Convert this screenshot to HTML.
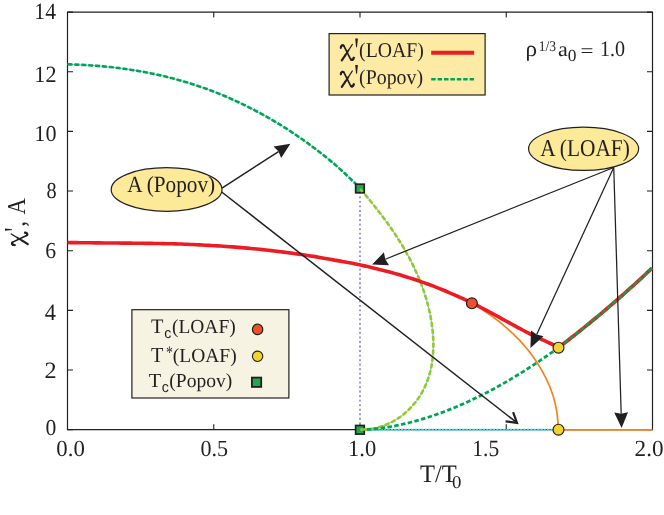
<!DOCTYPE html>
<html><head><meta charset="utf-8"><title>chart</title>
<style>html,body{margin:0;padding:0;background:#fff;}body{width:664px;height:515px;overflow:hidden;position:relative;font-family:"Liberation Serif",serif;}</style></head>
<body>
<svg width="664" height="515" viewBox="0 0 664 515" style="position:absolute;left:0;top:0;will-change:transform" text-rendering="geometricPrecision" font-family="'Liberation Serif', serif" fill="#231f20">
<rect x="0" y="0" width="664" height="515" fill="#ffffff"/>
<line x1="360" y1="187.5" x2="360" y2="429" stroke="#8383cb" stroke-width="1.7" stroke-dasharray="1.8 2.717"/>
<path d="M67.50,12.10 H652.50 V429.70 H67.50 Z" fill="none" stroke="#231f20" stroke-width="1.2"/>
<path d="M67.50,429.70 h5.5 M652.50,429.70 h-5.5 M67.50,370.04 h5.5 M652.50,370.04 h-5.5 M67.50,310.39 h5.5 M652.50,310.39 h-5.5 M67.50,250.73 h5.5 M652.50,250.73 h-5.5 M67.50,191.07 h5.5 M652.50,191.07 h-5.5 M67.50,131.41 h5.5 M652.50,131.41 h-5.5 M67.50,71.76 h5.5 M652.50,71.76 h-5.5 M67.50,12.10 h5.5 M652.50,12.10 h-5.5 M213.75,429.70 v-5.5 M213.75,12.10 v5.5 M360.00,429.70 v-5.5 M360.00,12.10 v5.5 M506.25,429.70 v-5.5 M506.25,12.10 v5.5" fill="none" stroke="#231f20" stroke-width="1.1"/>
<line x1="360" y1="429.70" x2="558" y2="429.70" stroke="#52d0d2" stroke-width="1.9" stroke-dasharray="2.7 0.7"/>
<path d="M471.98,303.12 L473.13,303.79 L474.27,304.48 L475.42,305.17 L476.56,305.87 L477.70,306.58 L478.84,307.29 L479.97,308.01 L481.10,308.74 L482.22,309.47 L483.35,310.21 L484.46,310.96 L485.58,311.71 L486.69,312.47 L487.80,313.24 L488.90,314.01 L490.00,314.79 L491.09,315.58 L492.18,316.37 L493.27,317.18 L494.35,317.98 L495.43,318.80 L496.50,319.62 L497.57,320.45 L498.63,321.28 L499.69,322.12 L500.74,322.97 L501.79,323.83 L502.83,324.69 L503.86,325.56 L504.90,326.44 L505.92,327.32 L506.94,328.21 L507.95,329.11 L508.96,330.01 L509.96,330.92 L510.96,331.84 L511.95,332.76 L512.93,333.69 L513.91,334.63 L514.88,335.57 L515.85,336.53 L516.80,337.48 L517.75,338.45 L518.70,339.42 L519.63,340.40 L520.54,341.39 L521.44,342.38 L522.34,343.38 L523.22,344.39 L524.10,345.40 L524.98,346.42 L525.84,347.45 L526.70,348.49 L527.55,349.53 L528.39,350.58 L529.22,351.63 L530.04,352.69 L530.86,353.76 L531.66,354.84 L532.46,355.92 L533.24,357.00 L534.02,358.10 L534.79,359.20 L535.54,360.31 L536.29,361.42 L537.03,362.54 L537.75,363.67 L538.47,364.80 L539.17,365.94 L539.87,367.08 L540.55,368.23 L541.22,369.39 L541.88,370.55 L542.53,371.72 L543.16,372.90 L543.79,374.08 L544.40,375.27 L545.03,376.46 L545.64,377.66 L546.24,378.86 L546.83,380.07 L547.40,381.29 L547.96,382.51 L548.51,383.73 L549.05,384.96 L549.57,386.20 L550.07,387.45 L550.56,388.69 L551.04,389.95 L551.50,391.21 L551.95,392.47 L552.39,393.74 L552.81,395.02 L553.21,396.30 L553.60,397.58 L553.97,398.87 L554.33,400.17 L554.67,401.47 L554.99,402.77 L555.30,404.08 L555.59,405.40 L555.87,406.71 L556.13,408.04 L556.37,409.37 L556.60,410.70 L556.80,412.04 L556.99,413.38 L557.17,414.73 L557.32,416.08 L557.46,417.44 L557.57,418.80 L557.68,420.17 L557.84,421.54 L557.98,422.91 L558.11,424.29 L558.21,425.67 L558.30,427.06 L558.36,428.45 L558.41,429.84 H652.50" fill="none" stroke="#f58220" stroke-width="1.7"/>
<path d="M67.50,64.33 L70.50,64.41 L73.50,64.51 L76.50,64.62 L79.50,64.75 L82.50,64.90 L85.50,65.06 L88.50,65.24 L91.50,65.44 L94.50,65.65 L97.50,65.88 L100.50,66.13 L103.50,66.40 L106.50,66.69 L109.50,67.00 L112.50,67.32 L115.50,67.67 L118.50,68.03 L121.50,68.42 L124.50,68.82 L127.50,69.25 L130.50,69.69 L133.50,70.16 L136.50,70.65 L139.50,71.17 L142.50,71.70 L145.50,72.26 L148.50,72.84 L151.50,73.44 L154.50,74.07 L157.50,74.72 L160.50,75.39 L163.50,76.09 L166.50,76.81 L169.50,77.56 L172.50,78.33 L175.50,79.13 L178.50,79.96 L181.50,80.81 L184.50,81.68 L187.50,82.59 L190.50,83.51 L193.50,84.47 L196.50,85.45 L199.50,86.45 L202.50,87.49 L205.50,88.55 L208.50,89.65 L211.50,90.77 L214.50,91.92 L217.50,93.10 L220.50,94.31 L223.50,95.55 L226.50,96.82 L229.50,98.12 L232.50,99.46 L235.50,100.82 L238.50,102.22 L241.50,103.65 L244.50,105.11 L247.50,106.60 L250.50,108.13 L253.50,109.69 L256.50,111.26 L259.50,112.85 L262.50,114.47 L265.50,116.13 L268.50,117.82 L271.50,119.54 L274.50,121.31 L277.50,123.10 L280.50,124.94 L283.50,126.81 L286.50,128.71 L289.50,130.65 L292.50,132.63 L295.50,134.65 L298.50,136.70 L301.50,138.79 L304.50,140.89 L307.50,143.04 L310.50,145.23 L313.50,147.45 L316.50,149.71 L319.50,152.02 L322.50,154.36 L325.50,156.74 L328.50,159.17 L331.50,161.63 L334.50,164.14 L337.50,166.78 L340.50,169.48 L343.50,172.22 L346.50,175.00 L349.50,177.83 L352.50,180.70 L355.50,183.61 L358.50,186.57 L360.00,188.06 L361.92,190.84 L363.55,192.77 L365.19,194.70 L366.81,196.63 L368.43,198.58 L370.04,200.53 L371.64,202.49 L373.23,204.47 L374.81,206.44 L376.38,208.43 L377.94,210.43 L379.49,212.43 L381.03,214.45 L382.56,216.47 L384.07,218.50 L385.57,220.54 L387.06,222.59 L388.53,224.65 L389.99,226.72 L391.44,228.80 L392.87,230.88 L394.28,232.98 L395.68,235.09 L397.06,237.20 L398.42,239.33 L399.76,241.47 L401.09,243.61 L402.40,245.77 L403.68,247.94 L404.95,250.12 L406.20,252.31 L407.43,254.51 L408.63,256.72 L409.81,258.94 L410.98,261.17 L412.11,263.41 L413.23,265.67 L414.32,267.93 L415.39,270.21 L416.43,272.50 L417.44,274.80 L418.43,277.11 L419.40,279.43 L420.34,281.77 L421.25,284.11 L422.13,286.47 L422.98,288.84 L423.81,291.23 L424.60,293.62 L425.37,296.03 L426.11,298.45 L426.81,300.89 L427.48,303.33 L428.13,305.79 L428.74,308.26 L429.31,310.75 L429.86,313.25 L430.37,315.76 L430.84,318.28 L431.28,320.81 L431.68,323.35 L432.04,325.90 L432.36,328.45 L432.64,331.00 L432.87,333.56 L433.06,336.12 L433.20,338.68 L433.30,341.24 L433.35,343.79 L433.35,346.34 L433.29,348.89 L433.19,351.42 L433.03,353.95 L432.82,356.47 L432.55,358.98 L432.22,361.47 L431.83,363.95 L431.39,366.42 L430.88,368.87 L430.31,371.30 L429.67,373.71 L428.97,376.10 L428.21,378.46 L427.37,380.81 L426.47,383.12 L425.50,385.41 L424.45,387.68 L423.33,389.91 L422.15,392.11 L420.89,394.27 L419.57,396.39 L418.18,398.47 L416.72,400.51 L415.20,402.50 L413.61,404.45 L411.96,406.34 L410.25,408.17 L408.48,409.95 L406.65,411.67 L404.76,413.33 L402.81,414.92 L400.81,416.44 L398.75,417.89 L396.64,419.27 L394.47,420.57 L392.26,421.79 L389.99,422.93 L387.68,423.99 L385.33,424.97 L382.93,425.85 L380.50,426.65 L378.02,427.36 L375.51,427.97 L372.96,428.49 L370.39,428.91 L367.78,429.22 L365.15,429.44 L362.48,429.54 L359.80,429.54" fill="none" stroke="#4cc6e0" stroke-width="1.0"/>
<path d="M67.50,64.33 L70.50,64.41 L73.50,64.51 L76.50,64.62 L79.50,64.75 L82.50,64.90 L85.50,65.06 L88.50,65.24 L91.50,65.44 L94.50,65.65 L97.50,65.88 L100.50,66.13 L103.50,66.40 L106.50,66.69 L109.50,67.00 L112.50,67.32 L115.50,67.67 L118.50,68.03 L121.50,68.42 L124.50,68.82 L127.50,69.25 L130.50,69.69 L133.50,70.16 L136.50,70.65 L139.50,71.17 L142.50,71.70 L145.50,72.26 L148.50,72.84 L151.50,73.44 L154.50,74.07 L157.50,74.72 L160.50,75.39 L163.50,76.09 L166.50,76.81 L169.50,77.56 L172.50,78.33 L175.50,79.13 L178.50,79.96 L181.50,80.81 L184.50,81.68 L187.50,82.59 L190.50,83.51 L193.50,84.47 L196.50,85.45 L199.50,86.45 L202.50,87.49 L205.50,88.55 L208.50,89.65 L211.50,90.77 L214.50,91.92 L217.50,93.10 L220.50,94.31 L223.50,95.55 L226.50,96.82 L229.50,98.12 L232.50,99.46 L235.50,100.82 L238.50,102.22 L241.50,103.65 L244.50,105.11 L247.50,106.60 L250.50,108.13 L253.50,109.69 L256.50,111.26 L259.50,112.85 L262.50,114.47 L265.50,116.13 L268.50,117.82 L271.50,119.54 L274.50,121.31 L277.50,123.10 L280.50,124.94 L283.50,126.81 L286.50,128.71 L289.50,130.65 L292.50,132.63 L295.50,134.65 L298.50,136.70 L301.50,138.79 L304.50,140.89 L307.50,143.04 L310.50,145.23 L313.50,147.45 L316.50,149.71 L319.50,152.02 L322.50,154.36 L325.50,156.74 L328.50,159.17 L331.50,161.63 L334.50,164.14 L337.50,166.78 L340.50,169.48 L343.50,172.22 L346.50,175.00 L349.50,177.83 L352.50,180.70 L355.50,183.61 L358.50,186.57 L360.00,188.06" fill="none" stroke="#00a551" stroke-width="2.6" stroke-dasharray="5 1.9"/>
<path d="M360.27,188.93 L361.92,190.84 L363.55,192.77 L365.19,194.70 L366.81,196.63 L368.43,198.58 L370.04,200.53 L371.64,202.49 L373.23,204.47 L374.81,206.44 L376.38,208.43 L377.94,210.43 L379.49,212.43 L381.03,214.45 L382.56,216.47 L384.07,218.50 L385.57,220.54 L387.06,222.59 L388.53,224.65 L389.99,226.72 L391.44,228.80 L392.87,230.88 L394.28,232.98 L395.68,235.09 L397.06,237.20 L398.42,239.33 L399.76,241.47 L401.09,243.61 L402.40,245.77 L403.68,247.94 L404.95,250.12 L406.20,252.31 L407.43,254.51 L408.63,256.72 L409.81,258.94 L410.98,261.17 L412.11,263.41 L413.23,265.67 L414.32,267.93 L415.39,270.21 L416.43,272.50 L417.44,274.80 L418.43,277.11 L419.40,279.43 L420.34,281.77 L421.25,284.11 L422.13,286.47 L422.98,288.84 L423.81,291.23 L424.60,293.62 L425.37,296.03 L426.11,298.45 L426.81,300.89 L427.48,303.33 L428.13,305.79 L428.74,308.26 L429.31,310.75 L429.86,313.25 L430.37,315.76 L430.84,318.28 L431.28,320.81 L431.68,323.35 L432.04,325.90 L432.36,328.45 L432.64,331.00 L432.87,333.56 L433.06,336.12 L433.20,338.68 L433.30,341.24 L433.35,343.79 L433.35,346.34 L433.29,348.89 L433.19,351.42 L433.03,353.95 L432.82,356.47 L432.55,358.98 L432.22,361.47 L431.83,363.95 L431.39,366.42 L430.88,368.87 L430.31,371.30 L429.67,373.71 L428.97,376.10 L428.21,378.46 L427.37,380.81 L426.47,383.12 L425.50,385.41 L424.45,387.68 L423.33,389.91 L422.15,392.11 L420.89,394.27 L419.57,396.39 L418.18,398.47 L416.72,400.51 L415.20,402.50 L413.61,404.45 L411.96,406.34 L410.25,408.17 L408.48,409.95 L406.65,411.67 L404.76,413.33 L402.81,414.92 L400.81,416.44 L398.75,417.89 L396.64,419.27 L394.47,420.57 L392.26,421.79 L389.99,422.93 L387.68,423.99 L385.33,424.97 L382.93,425.85 L380.50,426.65 L378.02,427.36 L375.51,427.97 L372.96,428.49 L370.39,428.91 L367.78,429.22 L365.15,429.44 L362.48,429.54 L359.80,429.54" fill="none" stroke="#96c82c" stroke-width="2.6" stroke-dasharray="5.05 1.9"/>
<path d="M360.00,429.70 L363.00,429.65 L366.00,429.53 L369.00,429.35 L372.00,429.12 L375.00,428.84 L378.00,428.51 L381.00,428.14 L384.00,427.73 L387.00,427.27 L390.00,426.78 L393.00,426.24 L396.00,425.67 L399.00,425.05 L402.00,424.41 L405.00,423.72 L408.00,423.00 L411.00,422.24 L414.00,421.45 L417.00,420.62 L420.00,419.76 L423.00,418.87 L426.00,417.94 L429.00,416.98 L432.00,415.99 L435.00,414.97 L438.00,413.91 L441.00,412.82 L444.00,411.71 L447.00,410.56 L450.00,409.37 L453.00,408.16 L456.00,406.92 L459.00,405.65 L462.00,404.35 L465.00,403.02 L468.00,401.66 L471.00,400.27 L474.00,398.85 L477.00,397.40 L480.00,395.93 L483.00,394.42 L486.00,392.89 L489.00,391.33 L492.00,389.74 L495.00,388.12 L498.00,386.48 L501.00,384.81 L504.00,383.11 L507.00,381.38 L510.00,379.63 L513.00,377.85 L516.00,376.04 L519.00,374.20 L522.00,372.34 L525.00,370.45 L528.00,368.54 L531.00,366.60 L534.00,364.63 L537.00,362.64 L540.00,360.62 L543.00,358.58 L546.00,356.50 L549.00,354.41 L552.00,352.29 L555.00,350.14 L558.00,347.96 L558.50,347.60" fill="none" stroke="#00a551" stroke-width="2.8" stroke-dasharray="4.5 2.4"/>
<path d="M67.50,242.55 L70.50,242.59 L73.50,242.63 L76.50,242.67 L79.50,242.70 L82.50,242.73 L85.50,242.76 L88.50,242.79 L91.50,242.82 L94.50,242.85 L97.50,242.87 L100.50,242.90 L103.50,242.93 L106.50,242.95 L109.50,242.98 L112.50,243.00 L115.50,243.03 L118.50,243.05 L121.50,243.08 L124.50,243.11 L127.50,243.13 L130.50,243.16 L133.50,243.20 L136.50,243.23 L139.50,243.26 L142.50,243.30 L145.50,243.34 L148.50,243.38 L151.50,243.42 L154.50,243.47 L157.50,243.52 L160.50,243.57 L163.50,243.63 L166.50,243.69 L169.50,243.75 L172.50,243.81 L175.50,243.89 L178.50,243.96 L181.50,244.06 L184.50,244.18 L187.50,244.31 L190.50,244.44 L193.50,244.57 L196.50,244.72 L199.50,244.86 L202.50,245.02 L205.50,245.18 L208.50,245.34 L211.50,245.51 L214.50,245.69 L217.50,245.87 L220.50,246.06 L223.50,246.26 L226.50,246.47 L229.50,246.68 L232.50,246.90 L235.50,247.13 L238.50,247.36 L241.50,247.61 L244.50,247.87 L247.50,248.15 L250.50,248.43 L253.50,248.72 L256.50,249.01 L259.50,249.32 L262.50,249.64 L265.50,249.96 L268.50,250.30 L271.50,250.65 L274.50,251.00 L277.50,251.37 L280.50,251.74 L283.50,252.13 L286.50,252.52 L289.50,252.90 L292.50,253.30 L295.50,253.71 L298.50,254.13 L301.50,254.56 L304.50,255.00 L307.50,255.45 L310.50,255.92 L313.50,256.40 L316.50,256.89 L319.50,257.40 L322.50,257.92 L325.50,258.45 L328.50,258.99 L331.50,259.55 L334.50,260.13 L337.50,260.63 L340.50,261.14 L343.50,261.65 L346.50,262.19 L349.50,262.73 L352.50,263.33 L355.50,263.94 L358.50,264.57 L361.50,265.21 L364.50,265.87 L367.50,266.54 L370.50,267.23 L373.50,267.94 L376.50,268.66 L379.50,269.40 L382.50,270.16 L385.50,270.93 L388.50,271.73 L391.50,272.53 L394.50,273.36 L397.50,274.20 L400.50,275.07 L403.50,275.98 L406.50,276.91 L409.50,277.85 L412.50,278.82 L415.50,279.80 L418.50,280.81 L421.50,281.83 L424.50,282.87 L427.50,283.94 L430.50,285.03 L433.50,286.19 L436.50,287.37 L439.50,288.57 L442.50,289.79 L445.50,291.03 L448.50,292.30 L451.50,293.59 L454.50,294.91 L457.50,296.25 L460.50,297.61 L463.50,298.98 L466.50,300.37 L469.50,301.79 L472.50,303.23 L475.50,304.70 L478.50,306.20 L481.50,307.73 L484.50,309.28 L487.50,310.86 L490.50,312.47 L493.50,314.09 L496.50,315.74 L499.50,317.40 L502.50,319.06 L505.50,320.73 L508.50,322.39 L511.50,324.05 L514.50,325.70 L517.50,327.33 L520.50,328.94 L523.50,330.53 L526.50,332.08 L529.50,333.60 L532.50,335.08 L535.50,336.53 L538.50,337.95 L541.50,339.34 L544.50,340.73 L547.50,342.11 L550.50,343.49 L553.50,344.88 L556.50,346.29 L558.50,347.24" fill="none" stroke="#ed1c24" stroke-width="3.6"/>
<path d="M558.50,347.60 L561.50,345.30 L564.50,343.00 L567.50,340.67 L570.50,338.33 L573.50,335.98 L576.50,333.61 L579.50,331.22 L582.50,328.82 L585.50,326.40 L588.50,323.96 L591.50,321.51 L594.50,319.04 L597.50,316.55 L600.50,314.05 L603.50,311.53 L606.50,308.99 L609.50,306.43 L612.50,303.85 L615.50,301.25 L618.50,298.64 L621.50,296.01 L624.50,293.36 L627.50,290.68 L630.50,287.99 L633.50,285.28 L636.50,282.55 L639.50,279.80 L642.50,277.03 L645.50,274.24 L648.50,271.43 L651.50,268.60 L652.00,268.13" fill="none" stroke="#ed1c24" stroke-width="3.7"/>
<path d="M558.50,347.60 L561.50,345.30 L564.50,343.00 L567.50,340.67 L570.50,338.33 L573.50,335.98 L576.50,333.61 L579.50,331.22 L582.50,328.82 L585.50,326.40 L588.50,323.96 L591.50,321.51 L594.50,319.04 L597.50,316.55 L600.50,314.05 L603.50,311.53 L606.50,308.99 L609.50,306.43 L612.50,303.85 L615.50,301.25 L618.50,298.64 L621.50,296.01 L624.50,293.36 L627.50,290.68 L630.50,287.99 L633.50,285.28 L636.50,282.55 L639.50,279.80 L642.50,277.03 L645.50,274.24 L648.50,271.43 L651.50,268.60 L652.00,268.13" fill="none" stroke="#149c49" stroke-width="2.8" stroke-dasharray="4.9 2.05"/>
<line x1="222.00" y1="188.20" x2="278.49" y2="151.53" stroke="#231f20" stroke-width="1.50"/><polygon points="290.40,143.80 281.16,158.03 278.49,151.53 273.64,146.45" fill="#231f20"/>
<line x1="221.7" y1="192.0" x2="516.2" y2="422.2" stroke="#231f20" stroke-width="1.5"/>
<path d="M513.1,412.2 L517.0,422.8 L505.6,421.3" fill="none" stroke="#231f20" stroke-width="2.2" stroke-linejoin="miter"/>
<line x1="613.75" y1="167.50" x2="385.28" y2="259.21" stroke="#231f20" stroke-width="1.25"/><polygon points="372.10,264.50 383.91,252.32 385.28,259.21 389.05,265.13" fill="#231f20"/>
<line x1="613.75" y1="167.50" x2="536.69" y2="334.47" stroke="#231f20" stroke-width="1.25"/><polygon points="530.45,348.00 530.97,330.40 536.69,334.47 543.50,336.18" fill="#231f20"/>
<line x1="613.75" y1="167.50" x2="621.17" y2="413.71" stroke="#231f20" stroke-width="1.25"/><polygon points="621.60,427.90 614.24,412.61 621.17,413.71 628.03,412.20" fill="#231f20"/>
<circle cx="471.9" cy="303.3" r="5.45" fill="#ef4f2a" stroke="#231f20" stroke-width="1.2"/>
<circle cx="558.5" cy="347.7" r="5.45" fill="#f2d42a" stroke="#231f20" stroke-width="1.2"/>
<circle cx="558.5" cy="429.70" r="5.45" fill="#f2d42a" stroke="#231f20" stroke-width="1.2"/>
<rect x="355.65" y="184.2" width="8.6" height="8.6" fill="#1ea84f" stroke="#231f20" stroke-width="1.7"/>
<path d="M360.2,189 L362.6,191.8" stroke="#96c82c" stroke-width="2.4" fill="none"/>
<rect x="355.65" y="425.50" width="8.6" height="8.6" fill="#1ea84f" stroke="#231f20" stroke-width="1.7"/>
<path d="M360.3,429.8 L365.6,429.2" stroke="#96c82c" stroke-width="2.4" fill="none"/>
<ellipse cx="166.6" cy="189.5" rx="55.4" ry="21.8" fill="#fcea98" stroke="#231f20" stroke-width="1.2"/>
<text transform="translate(127.14,192.25) scale(0.9177,1)" font-size="23.18" font-family="'Liberation Serif', serif">A (Popov)</text>
<ellipse cx="583.6" cy="148.8" rx="55" ry="21.6" fill="#fcea98" stroke="#231f20" stroke-width="1.2"/>
<text transform="translate(540.24,155.50) scale(0.8808,1)" font-size="24.24" font-family="'Liberation Serif', serif">A (LOAF)</text>
<rect x="329.1" y="33.6" width="156" height="61.4" fill="#fdeba5" stroke="#231f20" stroke-width="1.2"/>
<g transform="translate(339.90,43.90) scale(1.0000,1.0000)" fill="none" stroke="#231f20" stroke-linecap="round"><path d="M0.9,3.7 C1.0,1.3 2.9,0.3 4.0,2.0 L10.5,14.9 C11.5,16.9 13.5,16.4 13.9,13.7" stroke-width="1.7"/><path d="M0.9,3.9 C1.0,1.6 2.6,0.9 3.6,1.7" stroke-width="2.2"/><path d="M11.2,15.6 C12.1,16.6 13.4,16.0 13.8,13.9" stroke-width="2.2"/><path d="M12.4,0.6 L8.5,6.6" stroke-width="1.35"/><path d="M8.5,6.6 L5.5,11.2" stroke-width="1.8"/><path d="M5.5,11.2 L1.9,16.5" stroke-width="2.15"/></g>
<path d="M355.20,38.40 H357.90 L357.00,47.30 H356.10 Z" fill="#231f20"/>
<text transform="translate(359.06,57.05) scale(0.9381,1)" font-size="21.07" font-family="'Liberation Serif', serif">(LOAF)</text>
<g transform="translate(339.90,70.40) scale(1.0000,1.0000)" fill="none" stroke="#231f20" stroke-linecap="round"><path d="M0.9,3.7 C1.0,1.3 2.9,0.3 4.0,2.0 L10.5,14.9 C11.5,16.9 13.5,16.4 13.9,13.7" stroke-width="1.7"/><path d="M0.9,3.9 C1.0,1.6 2.6,0.9 3.6,1.7" stroke-width="2.2"/><path d="M11.2,15.6 C12.1,16.6 13.4,16.0 13.8,13.9" stroke-width="2.2"/><path d="M12.4,0.6 L8.5,6.6" stroke-width="1.35"/><path d="M8.5,6.6 L5.5,11.2" stroke-width="1.8"/><path d="M5.5,11.2 L1.9,16.5" stroke-width="2.15"/></g>
<path d="M355.20,64.90 H357.90 L357.00,73.80 H356.10 Z" fill="#231f20"/>
<text transform="translate(359.06,83.55) scale(0.9425,1)" font-size="21.07" font-family="'Liberation Serif', serif">(Popov)</text>
<line x1="431.2" y1="52.75" x2="474.1" y2="52.75" stroke="#ed1c24" stroke-width="3.8"/>
<line x1="431.2" y1="79.3" x2="474.1" y2="79.3" stroke="#00a551" stroke-width="2.6" stroke-dasharray="4.5 1.9"/>
<text transform="translate(525.54,55.62) scale(1.0410,1)" font-size="22.27" font-family="'Liberation Serif', serif">ρ</text>
<text transform="translate(538.76,51.25) scale(0.9136,1)" font-size="14.85" font-family="'Liberation Serif', serif">1/3</text>
<text transform="translate(558.08,55.94) scale(1.0679,1)" font-size="20.62" font-family="'Liberation Serif', serif">a</text>
<text transform="translate(567.80,61.38) scale(1.0310,1)" font-size="16.89" font-family="'Liberation Serif', serif">0</text>
<text transform="translate(580.60,56.83) scale(1.1985,1)" font-size="19.20" font-family="'Liberation Serif', serif">=</text>
<text transform="translate(599.89,56.15) scale(0.9081,1)" font-size="22.12" font-family="'Liberation Serif', serif">1.0</text>
<rect x="131.9" y="309.7" width="157" height="88.3" fill="#f6f3e2" stroke="#231f20" stroke-width="1.2"/>
<text transform="translate(151.10,332.85) scale(0.9830,1)" font-size="20.61" font-family="'Liberation Serif', serif">T</text>
<text transform="translate(164.35,337.60) scale(0.9589,1)" font-size="14.79" font-family="'Liberation Sans', sans-serif">c</text>
<text transform="translate(171.97,332.85) scale(0.9800,1)" font-size="19.85" font-family="'Liberation Serif', serif">(LOAF)</text>
<text transform="translate(151.10,362.25) scale(0.9411,1)" font-size="21.53" font-family="'Liberation Serif', serif">T</text>
<text transform="translate(165.96,357.56) scale(0.7896,1)" font-size="17.41" font-family="'Liberation Serif', serif">*</text>
<text transform="translate(172.77,362.25) scale(0.9741,1)" font-size="20.00" font-family="'Liberation Serif', serif">(LOAF)</text>
<text transform="translate(148.80,386.55) scale(1.0208,1)" font-size="19.85" font-family="'Liberation Serif', serif">T</text>
<text transform="translate(161.75,391.80) scale(0.9589,1)" font-size="14.79" font-family="'Liberation Sans', sans-serif">c</text>
<text transform="translate(169.27,386.85) scale(0.9844,1)" font-size="19.85" font-family="'Liberation Serif', serif">(Popov)</text>
<circle cx="257.6" cy="329.4" r="5.2" fill="#ef4f2a" stroke="#231f20" stroke-width="1.2"/>
<circle cx="257.6" cy="356.3" r="5.2" fill="#f2d42a" stroke="#231f20" stroke-width="1.1"/>
<rect x="251.9" y="377.6" width="9.3" height="9.3" fill="#1ea84f" stroke="#231f20" stroke-width="1.8"/>
<text transform="translate(34.36,19.05) scale(0.9264,1)" font-size="23.33" font-family="'Liberation Serif', serif">14</text>
<text transform="translate(34.31,81.80) scale(0.9532,1)" font-size="23.25" font-family="'Liberation Serif', serif">12</text>
<text transform="translate(34.31,140.62) scale(0.9718,1)" font-size="22.81" font-family="'Liberation Serif', serif">10</text>
<text transform="translate(46.39,198.12) scale(0.8869,1)" font-size="22.81" font-family="'Liberation Serif', serif">8</text>
<text transform="translate(45.13,258.47) scale(0.9500,1)" font-size="22.90" font-family="'Liberation Serif', serif">6</text>
<text transform="translate(44.80,320.35) scale(0.9549,1)" font-size="23.42" font-family="'Liberation Serif', serif">4</text>
<text transform="translate(44.56,378.30) scale(1.0432,1)" font-size="23.25" font-family="'Liberation Serif', serif">2</text>
<text transform="translate(45.44,435.32) scale(0.9488,1)" font-size="22.81" font-family="'Liberation Serif', serif">0</text>
<text transform="translate(56.29,456.10) scale(0.9879,1)" font-size="23.09" font-family="'Liberation Serif', serif">0.0</text>
<text transform="translate(200.52,456.10) scale(0.9567,1)" font-size="23.09" font-family="'Liberation Serif', serif">0.5</text>
<text transform="translate(347.97,456.10) scale(0.9779,1)" font-size="23.09" font-family="'Liberation Serif', serif">1.0</text>
<text transform="translate(472.37,456.10) scale(0.9231,1)" font-size="23.26" font-family="'Liberation Serif', serif">1.5</text>
<text transform="translate(634.61,456.10) scale(1.0054,1)" font-size="23.09" font-family="'Liberation Serif', serif">2.0</text>
<text transform="translate(420.02,481.65) scale(0.9814,1)" font-size="25.04" font-family="'Liberation Serif', serif">T/T</text>
<text transform="translate(451.94,488.27) scale(1.0501,1)" font-size="17.93" font-family="'Liberation Serif', serif">0</text>
<g transform="translate(0,250) rotate(-90)"><g transform="translate(4.00,10.60) scale(0.9667,1.0412)" fill="none" stroke="#231f20" stroke-linecap="round"><path d="M0.9,3.7 C1.0,1.3 2.9,0.3 4.0,2.0 L10.5,14.9 C11.5,16.9 13.5,16.4 13.9,13.7" stroke-width="1.7"/><path d="M0.9,3.9 C1.0,1.6 2.6,0.9 3.6,1.7" stroke-width="2.2"/><path d="M11.2,15.6 C12.1,16.6 13.4,16.0 13.8,13.9" stroke-width="2.2"/><path d="M12.4,0.6 L8.5,6.6" stroke-width="1.35"/><path d="M8.5,6.6 L5.5,11.2" stroke-width="1.8"/><path d="M5.5,11.2 L1.9,16.5" stroke-width="2.15"/></g><path d="M19.30,5.00 H21.50 L20.85,12.00 H19.95 Z" fill="#231f20"/><text transform="translate(23.45,24.92) scale(0.8500,1)" font-size="25.10" font-family="'Liberation Serif', serif" stroke="#231f20" stroke-width="0.2">,</text><text transform="translate(35.52,25.05) scale(0.8811,1)" font-size="25.76" font-family="'Liberation Serif', serif">A</text></g>
</svg>
</body></html>
